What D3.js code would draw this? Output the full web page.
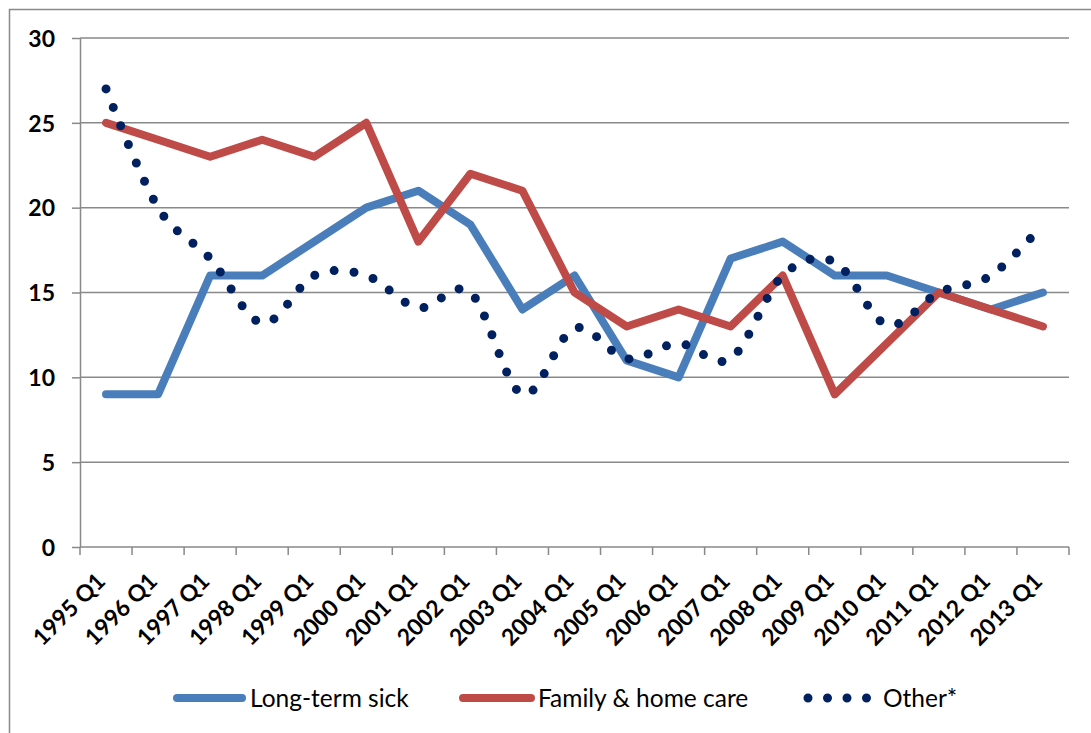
<!DOCTYPE html>
<html lang="en">
<head>
    <meta charset="UTF-8">
    <title>Inactivity reasons</title>
    <style>
        body {
            background-color: #ffffff;
            margin: 0;
            overflow: hidden;
            font-family: Lato, "Open Sans", sans-serif;
        }
        svg {
            display: block;
        }
        .tick-label {
            font-family: Lato, sans-serif;
            font-weight: bold;
            font-size: 23px;
            fill: #000;
        }
        .legend text {
            font-family: Lato, sans-serif;
            font-size: 24.5px;
            fill: #000;
        }
    </style>
</head>
<body>
    <svg id="chart"></svg>

    <script src="https://d3js.org/d3.v7.min.js"></script>
    <script>
        // categories along the x axis
        const quarters = ["1995 Q1", "1996 Q1", "1997 Q1", "1998 Q1", "1999 Q1", "2000 Q1", "2001 Q1",
                          "2002 Q1", "2003 Q1", "2004 Q1", "2005 Q1", "2006 Q1", "2007 Q1", "2008 Q1",
                          "2009 Q1", "2010 Q1", "2011 Q1", "2012 Q1", "2013 Q1"];

        // series values (percent)
        const longTermSick = [9, 9, 16, 16, 18, 20, 21, 19, 14, 16, 11, 10, 17, 18, 16, 16, 15, 14, 15];
        const familyHomeCare = [25, 24, 23, 24, 23, 25, 18, 22, 21, 15, 13, 14, 13, 16, 9, 12, 15, 14, 13];
        const other = [27, 20, 17, 13.2, 16, 16, 14.1, 15, 9, 12.9, 11.1, 12, 11.1, 16, 16.8, 13.1, 15, 16, 19];

        const yTicks = [0, 5, 10, 15, 20, 25, 30];
        const seriesNames = ["Long-term sick", "Family & home care", "Other*"];

        const W = 1091, H = 733;
        const plot = { left: 80, right: 1069, top: 38, bottom: 547 };
        const gridColor = "#898989";

        const svg = d3.select("#chart")
            .attr("width", W)
            .attr("height", H);

        // outer chart border
        svg.append("rect")
            .attr("x", 9.5)
            .attr("y", 9.5)
            .attr("width", 1100)
            .attr("height", 760)
            .attr("fill", "none")
            .attr("stroke", gridColor)
            .attr("stroke-width", 1.5);

        const x = d3.scaleBand()
            .domain(quarters)
            .range([plot.left, plot.right]);
        const cx = d => x(d) + x.bandwidth() / 2;

        const y = d3.scaleLinear()
            .domain([0, 30])
            .range([plot.bottom, plot.top]);

        // horizontal gridlines
        svg.append("g")
            .selectAll("line")
            .data(yTicks.filter(v => v > 0))
            .join("line")
            .attr("x1", plot.left)
            .attr("x2", plot.right)
            .attr("y1", d => y(d))
            .attr("y2", d => y(d))
            .attr("stroke", gridColor)
            .attr("stroke-width", 1.5);

        // y axis
        const yAxis = svg.append("g")
            .attr("transform", `translate(${plot.left},0)`)
            .call(d3.axisLeft(y).tickValues(yTicks).tickSize(8).tickSizeOuter(0).tickPadding(17));
        yAxis.select(".domain").attr("stroke", gridColor).attr("stroke-width", 1.5);
        yAxis.selectAll(".tick line").attr("stroke", gridColor).attr("stroke-width", 1.5);
        yAxis.selectAll(".tick text").attr("class", "tick-label").attr("dy", "0.36em");

        // x axis: line + ticks between categories
        const xAxis = svg.append("g");
        xAxis.append("line")
            .attr("x1", plot.left)
            .attr("x2", plot.right)
            .attr("y1", y(0))
            .attr("y2", y(0))
            .attr("stroke", gridColor)
            .attr("stroke-width", 1.5);
        const bounds = quarters.map(q => x(q)).concat([x.range()[1]]);
        xAxis.selectAll("line.xt")
            .data(bounds)
            .join("line")
            .attr("class", "xt")
            .attr("x1", d => d)
            .attr("x2", d => d)
            .attr("y1", y(0))
            .attr("y2", y(0) + 8)
            .attr("stroke", gridColor)
            .attr("stroke-width", 1.5);
        xAxis.selectAll("text")
            .data(quarters)
            .join("text")
            .attr("class", "tick-label")
            .attr("text-anchor", "end")
            .attr("dy", "0.35em")
            .attr("transform", d => `translate(${cx(d) - 5},${y(0) + 30}) rotate(-45)`)
            .text(d => d);

        // lines
        const straight = d3.line()
            .x((d, i) => cx(quarters[i]))
            .y(d => y(d));
        const smooth = d3.line()
            .x((d, i) => cx(quarters[i]))
            .y(d => y(d))
            .curve(d3.curveCardinal.tension(0));

        svg.append("path")
            .datum(longTermSick)
            .attr("fill", "none")
            .attr("stroke", "#4a7ebb")
            .attr("stroke-width", 8)
            .attr("stroke-linecap", "round")
            .attr("stroke-linejoin", "round")
            .attr("d", straight);

        svg.append("path")
            .datum(familyHomeCare)
            .attr("fill", "none")
            .attr("stroke", "#be4b48")
            .attr("stroke-width", 8)
            .attr("stroke-linecap", "round")
            .attr("stroke-linejoin", "round")
            .attr("d", straight);

        svg.append("path")
            .datum(other)
            .attr("fill", "none")
            .attr("stroke", "#002060")
            .attr("stroke-width", 9)
            .attr("stroke-linecap", "round")
            .attr("stroke-dasharray", "0 20")
            .attr("d", smooth);

        // legend
        const legend = svg.append("g").attr("class", "legend");
        const ly = 698;

        legend.append("line")
            .attr("x1", 177).attr("x2", 242)
            .attr("y1", ly).attr("y2", ly)
            .attr("stroke", "#4a7ebb").attr("stroke-width", 8).attr("stroke-linecap", "round");
        legend.append("text")
            .attr("x", 250).attr("y", ly).attr("dy", "0.35em")
            .text(seriesNames[0]);

        legend.append("line")
            .attr("x1", 463).attr("x2", 531)
            .attr("y1", ly).attr("y2", ly)
            .attr("stroke", "#be4b48").attr("stroke-width", 8).attr("stroke-linecap", "round");
        legend.append("text")
            .attr("x", 538).attr("y", ly).attr("dy", "0.35em")
            .text(seriesNames[1]);

        legend.append("line")
            .attr("x1", 808).attr("x2", 868)
            .attr("y1", ly).attr("y2", ly)
            .attr("stroke", "#002060").attr("stroke-width", 9)
            .attr("stroke-linecap", "round").attr("stroke-dasharray", "0 19.5");
        legend.append("text")
            .attr("x", 883).attr("y", ly).attr("dy", "0.35em")
            .text(seriesNames[2]);
    </script>
</body>
</html>
